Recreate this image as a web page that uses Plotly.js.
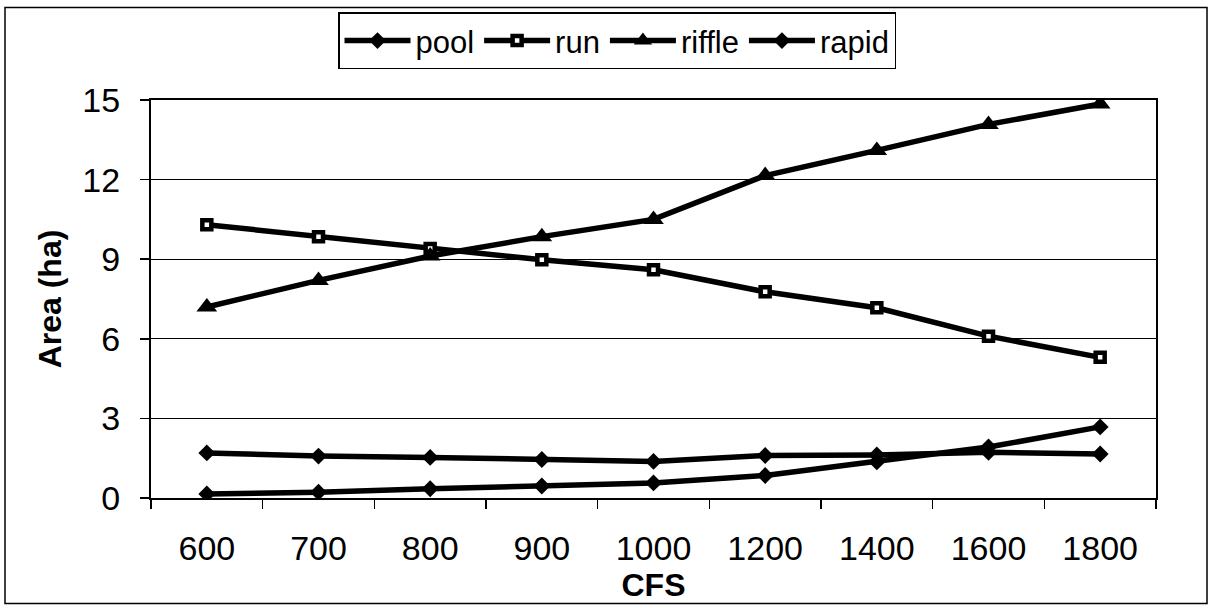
<!DOCTYPE html>
<html>
<head>
<meta charset="utf-8">
<script src="https://cdn.plot.ly/plotly-3.0.1.min.js"></script>
<style>
html,body{margin:0;padding:0;background:#fff;}
#chart{width:1213px;height:608px;}
</style>
</head>
<body>
<div id="chart"></div>
<script>
const cfs = ["600","700","800","900","1000","1200","1400","1600","1800"];
const pool = [1.70, 1.58, 1.53, 1.45, 1.38, 1.60, 1.62, 1.72, 1.66];
const run = [10.3, 9.85, 9.4, 8.98, 8.6, 7.77, 7.17, 6.1, 5.3];
const riffle = [7.2, 8.2, 9.12, 9.85, 10.5, 12.15, 13.1, 14.08, 14.85];
const rapid = [0.15, 0.22, 0.35, 0.45, 0.57, 0.85, 1.36, 1.92, 2.68];
const yTicks = [0, 3, 6, 9, 12, 15];

const font = "Arial, 'Liberation Sans', sans-serif";
const lineStyle = {color: "#000", width: 5.5};

const traces = [
  {name: "pool", x: cfs, y: pool, type: "scatter", mode: "lines+markers",
   line: lineStyle, marker: {symbol: "diamond", size: 13, color: "#000"}},
  {name: "run", x: cfs, y: run, type: "scatter", mode: "lines+markers",
   line: lineStyle, marker: {symbol: "square", size: 9, color: "#fff", line: {color: "#000", width: 4.5}}},
  {name: "riffle", x: cfs, y: riffle, type: "scatter", mode: "lines+markers",
   line: lineStyle, marker: {symbol: "triangle-up", size: 18, color: "#000"}},
  {name: "rapid", x: cfs, y: rapid, type: "scatter", mode: "lines+markers",
   line: lineStyle, marker: {symbol: "diamond", size: 13, color: "#000"}}
];

const L = 151, R = 1156, T = 98, B = 498;
const px = v => (v - L) / (R - L);
const py = v => (B - v) / (B - T);

const layout = {
  width: 1213, height: 608,
  margin: {l: L, r: 1213 - R, t: T, b: 608 - B},
  paper_bgcolor: "#fff", plot_bgcolor: "#fff",
  font: {family: font, color: "#000", size: 34},
  showlegend: true,
  legend: {
    orientation: "h", x: px(338), xanchor: "left", y: py(10), yanchor: "top",
    bordercolor: "#000", borderwidth: 1.5, bgcolor: "#fff",
    font: {family: font, size: 31, color: "#000"},
    itemwidth: 66, tracegroupgap: 0
  },
  xaxis: {
    type: "category", range: [-0.5, 8.5],
    tickson: "boundaries", ticks: "outside", ticklen: 9, tickwidth: 1.5, tickcolor: "#000",
    showline: true, linecolor: "#000", linewidth: 2, mirror: true,
    showgrid: false, zeroline: false,
    ticklabelstandoff: 19,
    tickfont: {family: font, size: 34, color: "#000"},
    title: {text: "<b>CFS</b>", font: {family: font, size: 32, color: "#000"}, standoff: 0}
  },
  yaxis: {
    range: [0, 15], tickvals: yTicks, ticktext: yTicks.map(String),
    ticks: "outside", ticklen: 9, tickwidth: 1.5, tickcolor: "#000",
    showline: true, linecolor: "#000", linewidth: 2, mirror: true,
    showgrid: true, gridcolor: "#000", gridwidth: 1, zeroline: false,
    ticklabelstandoff: 13,
    tickfont: {family: font, size: 34, color: "#000"},
    title: {text: "<b>Area (ha)</b>", font: {family: font, size: 32, color: "#000"}, standoff: 11}
  },
  shapes: [
    {type: "rect", xref: "paper", yref: "paper",
     x0: px(5), x1: px(1207), y0: py(604), y1: py(5),
     line: {color: "#000", width: 1.5}, fillcolor: "rgba(0,0,0,0)", layer: "below"}
  ]
};

Plotly.newPlot("chart", traces, layout, {displayModeBar: false, staticPlot: true});
</script>
</body>
</html>
